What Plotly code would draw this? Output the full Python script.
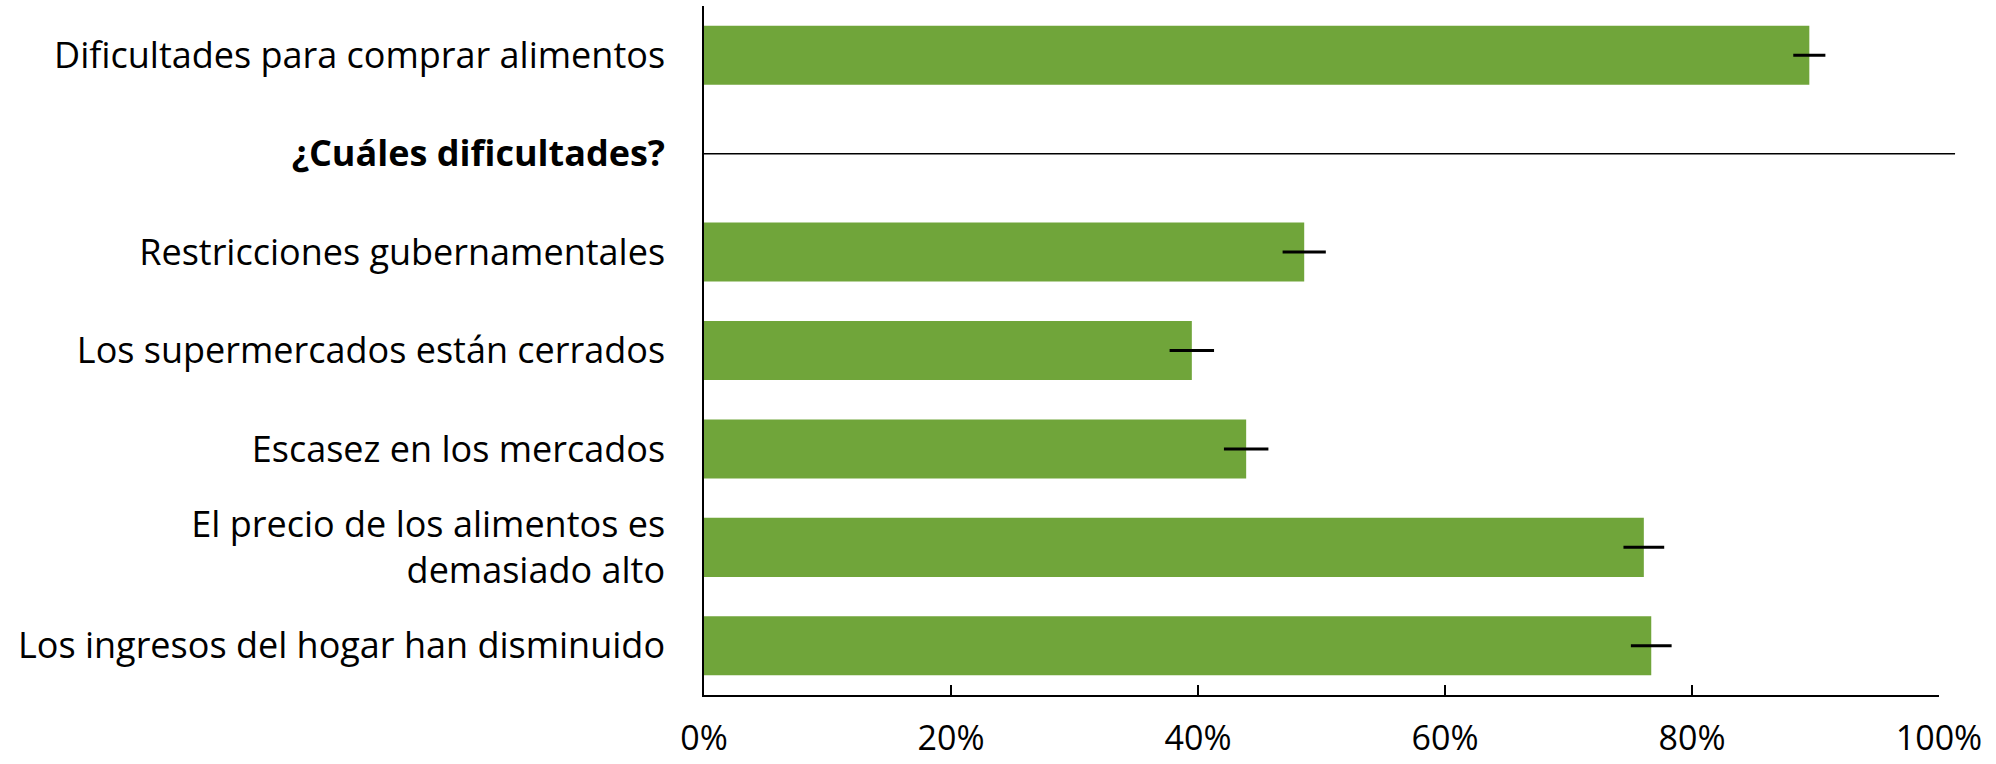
import plotly.graph_objects as go

categories = [
    "Dificultades para comprar alimentos",
    "<b>¿Cuáles dificultades?</b>",
    "Restricciones gubernamentales",
    "Los supermercados están cerrados",
    "Escasez en los mercados",
    "El precio de los alimentos es<br>demasiado alto",
    "Los ingresos del hogar han disminuido",
]
header = categories[1]
bar_categories = [c for c in categories if c != header]
values = [89.5, 48.6, 39.5, 43.9, 76.1, 76.7]
errors = [1.3, 1.75, 1.8, 1.8, 1.65, 1.65]
tick_vals = [0, 20, 40, 60, 80, 100]
tick_text = ["0%", "20%", "40%", "60%", "80%", "100%"]

FONT = "Open Sans"
fig = go.Figure()
fig.add_trace(go.Bar(
    x=values, y=bar_categories, orientation="h",
    marker=dict(color="#70A53A", line=dict(width=0)),
    width=0.6,
    error_x=dict(type="data", array=errors, symmetric=True, color="black", thickness=3, width=0),
    showlegend=False,
))
fig.add_shape(type="line", xref="paper", yref="y", x0=0, x1=1.013, y0=header, y1=header,
              line=dict(color="black", width=1.5))

fig.update_layout(
    width=1996, height=764,
    margin=dict(l=704, r=57, t=6, b=69),
    plot_bgcolor="white", paper_bgcolor="white",
    font=dict(family=FONT, size=36, color="black"),
)
fig.update_xaxes(
    range=[0, 100], tickvals=tick_vals, ticktext=tick_text,
    showgrid=False, zeroline=False, automargin=False,
    showline=True, linecolor="black", linewidth=1.5,
    ticks="inside", ticklen=10, tickcolor="black", tickwidth=1.5,
    ticklabelstandoff=12,
    tickfont=dict(size=34),
)
fig.update_yaxes(
    type="category", categoryorder="array", categoryarray=categories,
    range=[6.5, -0.5],
    showgrid=False, zeroline=False, automargin=False,
    showline=True, linecolor="black", linewidth=1.5,
    ticks="", ticklabelstandoff=30,
    tickfont=dict(size=36),
)
fig.write_html("out.html", config={"displayModeBar": False},
               post_script="document.body.style.margin='0px';")
